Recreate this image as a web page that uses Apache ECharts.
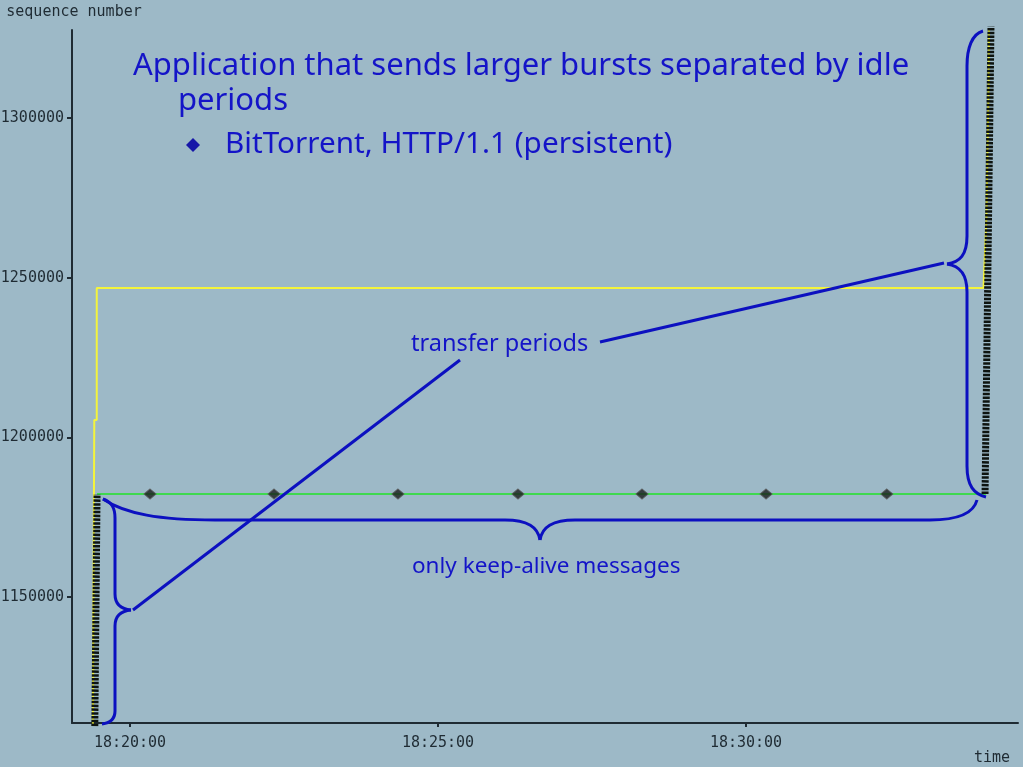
<!DOCTYPE html>
<html>
<head>
<meta charset="utf-8">
<script src="https://cdn.jsdelivr.net/npm/echarts@6/dist/echarts.min.js"></script>
<style>
html,body{margin:0;padding:0;background:#9db9c7;}
#chart{width:1023px;height:767px;}
</style>
</head>
<body>
<div id="chart"></div>
<script>
// ---- data (time as clock strings, sequence numbers) ----
const xTickLabels = ['18:20:00', '18:25:00', '18:30:00'];
const yTickValues = [1150000, 1200000, 1250000, 1300000];
const xRange = ['18:19:03.5', '18:34:24.9'];
const yRange = [1110540, 1327560];

// keep-alive messages during the idle period
const keepAliveTimes = ['18:20:19.5', '18:22:20.3', '18:24:21', '18:26:17.9', '18:28:18.7', '18:30:19.5', '18:32:17.1'];
const keepAliveSeq = [1182258, 1182258, 1182258, 1182258, 1182258, 1182258, 1182258];

// transfer bursts (data segments)
const burst1Times = ['18:19:25.6', '18:19:27.9'];
const burst1Seq = [1106000, 1182258];
const burst2Times = ['18:33:52.8', '18:33:58.7'];
const burst2Seq = [1182258, 1332000];

// ack line (green)
const ackTimes = ['18:19:27.9', '18:33:53.7'];
const ackSeq = [1182258, 1182258];

// receive window line (yellow)
const winTimes = ['18:19:23.8', '18:19:25.2', '18:19:27.6', '18:19:27.6', '18:33:51.3', '18:33:54.2', '18:33:56.2', '18:33:56.7'];
const winSeq = [1106000, 1205434, 1205434, 1246774, 1246774, 1269010, 1309720, 1332000];

// ---- helpers ----
function toSec(s) {
  const p = s.split(':');
  return (+p[0]) * 3600 + (+p[1]) * 60 + parseFloat(p[2]);
}
function fmt(v) {
  v = Math.round(v);
  const h = Math.floor(v / 3600), m = Math.floor((v % 3600) / 60), s = v % 60;
  const z = n => (n < 10 ? '0' : '') + n;
  return z(h) + ':' + z(m) + ':' + z(s);
}
function pairs(ts, vs) { return ts.map((t, i) => [toSec(t), vs[i]]); }

const TXT = '#1414c8';
const BR = '#0c10c0';
const axisColor = '#1f2b33';
const mono = '"DejaVu Sans Mono", monospace';

const chart = echarts.init(document.getElementById('chart'), null, {renderer: 'canvas'});

function brace(shapes) {
  return shapes.map(s => {
    if (s.length === 4) return {type: 'line', shape: {x1: s[0], y1: s[1], x2: s[2], y2: s[3]}, style: {stroke: BR, lineWidth: 3}, z: 100};
    return {type: 'bezierCurve', shape: {x1: s[0], y1: s[1], cpx1: s[2], cpy1: s[3], cpx2: s[4], cpy2: s[5], x2: s[6], y2: s[7]}, style: {stroke: BR, lineWidth: 3, fill: null}, z: 100};
  });
}
function label(text, x, y, size) {
  return {type: 'text', x: x, y: y, z: 100, style: {text: text, font: size + 'px "Noto Sans"', fill: TXT, verticalAlign: 'middle', textVerticalAlign: 'middle'}};
}

const graphics = [].concat(
  // right brace (vertical)
  brace([
    [983, 31, 972, 34, 967, 48, 967, 66],
    [967, 66, 967, 236],
    [967, 236, 967, 255, 960, 262, 947, 264],
    [947, 264, 960, 266, 967, 274, 967, 292],
    [967, 292, 967, 466],
    [967, 466, 967, 486, 974, 494, 986, 497]
  ]),
  // bottom brace (horizontal)
  brace([
    [103, 499, 125, 514, 160, 520, 215, 520],
    [215, 520, 505, 520],
    [505, 520, 528, 520, 538, 527, 540, 540],
    [540, 540, 542, 527, 552, 520, 575, 520],
    [575, 520, 930, 520],
    [930, 520, 960, 520, 974, 512, 977, 500]
  ]),
  // left brace (vertical)
  brace([
    [103, 499, 112, 502, 115, 508, 115, 518],
    [115, 518, 115, 594],
    [115, 594, 115, 604, 120, 609, 131, 610],
    [131, 610, 120, 611, 115, 616, 115, 626],
    [115, 626, 115, 711],
    [115, 711, 115, 719, 110, 723, 102, 724]
  ]),
  // pointer lines
  brace([
    [600, 342, 944, 263],
    [460, 360, 133, 610]
  ]),
  [
    label('Application that sends larger bursts separated by idle', 133, 66, 31),
    label('periods', 178, 101, 31),
    {type: 'polygon', z: 100, shape: {points: [[193, 138], [200, 145], [193, 152], [186, 145]]}, style: {fill: '#1616a8'}},
    label('BitTorrent, HTTP/1.1 (persistent)', 225, 145, 29.7),
    label('transfer periods', 411, 344, 23.5),
    label('only keep-alive messages', 412, 567, 22.5)
  ]
);

const option = {
  backgroundColor: '#9db9c7',
  animation: false,
  grid: {left: 72, right: 5, top: 30, bottom: 44, containLabel: false, outerBoundsMode: 'none'},
  xAxis: {
    type: 'value',
    min: toSec(xRange[0]),
    max: toSec(xRange[1]),
    name: 'time',
    nameLocation: 'end',
    nameGap: -8,
    nameTextStyle: {color: axisColor, fontFamily: mono, fontSize: 15, align: 'right', verticalAlign: 'top', padding: [28, 0, 0, 0]},
    axisLine: {lineStyle: {color: axisColor, width: 2}},
    axisTick: {show: true, length: 4, lineStyle: {color: axisColor, width: 2}, customValues: xTickLabels.map(toSec)},
    axisLabel: {color: axisColor, fontFamily: mono, fontSize: 15, margin: 13, customValues: xTickLabels.map(toSec), formatter: v => fmt(v)},
    splitLine: {show: false}
  },
  yAxis: {
    type: 'value',
    min: yRange[0],
    max: yRange[1],
    name: 'sequence number',
    nameLocation: 'end',
    nameGap: 10,
    nameTextStyle: {color: axisColor, fontFamily: mono, fontSize: 15, align: 'center', padding: [0, 0, 0, 4]},
    axisLine: {show: true, lineStyle: {color: axisColor, width: 2}},
    axisTick: {show: true, length: 5, lineStyle: {color: axisColor, width: 2}, customValues: yTickValues},
    axisLabel: {color: axisColor, fontFamily: mono, fontSize: 15, margin: 8, customValues: yTickValues, formatter: v => String(v)},
    splitLine: {show: false}
  },
  series: [
    {
      name: 'window', type: 'line', data: pairs(winTimes, winSeq), showSymbol: false,
      lineStyle: {color: '#f4f43c', width: 2}, z: 2, clip: true
    },
    {
      name: 'ack', type: 'line', data: pairs(ackTimes, ackSeq), showSymbol: false,
      lineStyle: {color: '#3fd84f', width: 2}, z: 3, clip: true
    },
    {
      name: 'burst1', type: 'line', data: pairs(burst1Times, burst1Seq), showSymbol: false,
      lineStyle: {color: '#0e1410', width: 7, type: [2.5, 1.3]}, z: 4, clip: true
    },
    {
      name: 'burst2', type: 'line', data: pairs(burst2Times, burst2Seq), showSymbol: false,
      lineStyle: {color: '#0e1410', width: 7, type: [2.5, 1.3]}, z: 4, clip: true
    },
    {
      name: 'keepalive', type: 'scatter', data: pairs(keepAliveTimes, keepAliveSeq),
      symbol: 'diamond', symbolSize: [12, 10],
      itemStyle: {color: '#1a1d1c', borderColor: '#555', borderWidth: 1}, z: 5
    }
  ],
  graphic: graphics
};
chart.setOption(option);
</script>
</body>
</html>
